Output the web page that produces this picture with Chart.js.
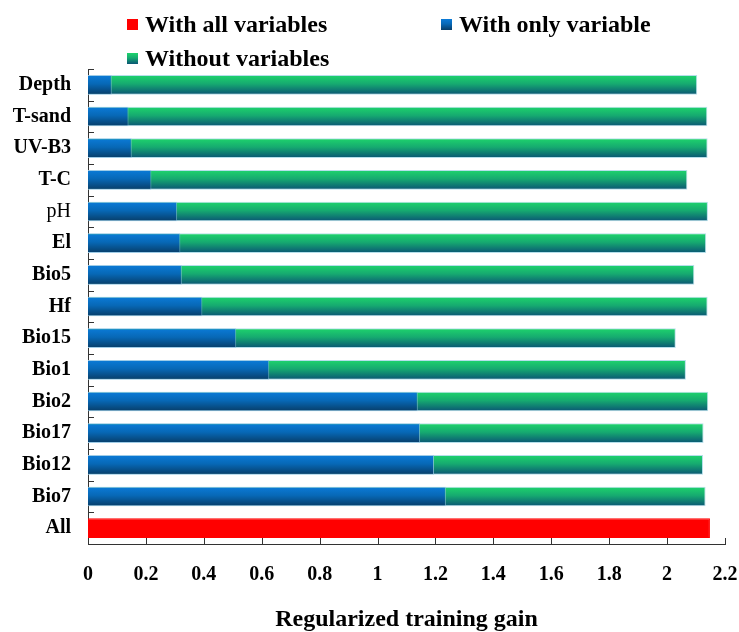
<!DOCTYPE html>
<html>
<head>
<meta charset="utf-8">
<title>Jackknife of regularized training gain</title>
<script src="https://cdn.jsdelivr.net/npm/chart.js@4.4.1/dist/chart.umd.min.js"></script>
<style>
  html, body { margin: 0; padding: 0; background: #fff; }
  #wrap { position: relative; width: 739px; height: 632px; overflow: hidden; }
  #legend { position: absolute; left: 0; top: 0; width: 739px; height: 70px;
            font: bold 24px "Liberation Serif", "Times New Roman", serif; color: #000; }
  .lg-item { position: absolute; display: flex; align-items: center; white-space: nowrap; line-height: 24px; }
  .lg-box { width: 11px; height: 11px; margin-right: 7px; }
</style>
</head>
<body>
<div id="wrap">
  <canvas id="chart" width="739" height="632"></canvas>
  <div id="legend"></div>
</div>
<script>
// Jackknife test of variable importance (MaxEnt style), horizontal overlapping bars.

var CATEGORIES = ["Depth", "T-sand", "UV-B3", "T-C", "pH", "El", "Bio5", "Hf",
                  "Bio15", "Bio1", "Bio2", "Bio17", "Bio12", "Bio7", "All"];

// gain with all variables (only the "All" row)
var WITH_ALL = [null, null, null, null, null, null, null, null,
                null, null, null, null, null, null, 2.148];

// gain with only this variable
var WITH_ONLY = [0.082, 0.140, 0.151, 0.219, 0.308, 0.319, 0.324, 0.395,
                 0.512, 0.626, 1.139, 1.147, 1.195, 1.236, null];

// gain without this variable
var WITHOUT = [2.104, 2.139, 2.140, 2.070, 2.141, 2.135, 2.094, 2.140,
               2.030, 2.065, 2.142, 2.126, 2.124, 2.133, null];

var X_TICK_LABELS = ["0", "0.2", "0.4", "0.6", "0.8", "1", "1.2", "1.4",
                     "1.6", "1.8", "2", "2.2"];

var NORMAL_WEIGHT_LABELS = ["pH"];

var SERIES_NAMES = ["With all variables", "With only variable", "Without variables"];

var FONT = '"Liberation Serif", "Times New Roman", serif';

// vertical gradient stops per dataset (null = flat fill)
var GRADIENTS = [
  null,
  [[0, "#0b7bd8"], [0.45, "#0768b6"], [1, "#073d68"]],
  [[0, "#1ed46c"], [0.45, "#16aa70"], [1, "#0a5574"]]
];

var FLAT = ["#ff0000", "#0768b6", "#16aa70"];

var BAR_PCT = 0.62;

function cssGradient(stops, flat) {
  if (!stops) return flat;
  return "linear-gradient(" + stops.map(function(s) {
    return s[1] + " " + Math.round(s[0] * 100) + "%";
  }).join(", ") + ")";
}

// legend built as html so it can sit in the two-row layout of the figure
var LEGEND_POS = [
  { left: 127, top: 12 },
  { left: 441, top: 12 },
  { left: 127, top: 46 }
];

(function buildLegend() {
  var box = document.getElementById("legend");
  SERIES_NAMES.forEach(function(name, i) {
    var item = document.createElement("div");
    item.className = "lg-item";
    item.style.left = LEGEND_POS[i].left + "px";
    item.style.top  = LEGEND_POS[i].top + "px";
    item.innerHTML =
      '<span class="lg-box" style="background:' + cssGradient(GRADIENTS[i], FLAT[i]) + '"></span>' +
      '<span>' + name + '</span>';
    box.appendChild(item);
  });
})();

// scriptable fill: vertical gradient across each bar's thickness
function barFill(i) {
  return function(c) {
    var stops = GRADIENTS[i];
    var ch = c.chart, ys = ch.scales && ch.scales.y;
    if (!stops || !ys || c.type !== "data" || !ys.ticks || !ys.ticks.length) return FLAT[i];
    var center = ys.getPixelForTick(c.dataIndex);
    var h = (ys.bottom - ys.top) / CATEGORIES.length * BAR_PCT;
    var g = ch.ctx.createLinearGradient(0, center - h / 2, 0, center + h / 2);
    stops.forEach(function(s) { g.addColorStop(s[0], s[1]); });
    return g;
  };
}

// short tick marks drawn on the inside of both axes
var innerTicks = {
  id: "innerTicks",
  afterDraw: function(chart) {
    var ctx = chart.ctx, xs = chart.scales.x, a = chart.chartArea;
    ctx.save();
    ctx.strokeStyle = "#333";
    ctx.lineWidth = 1;
    ctx.beginPath();
    xs.ticks.forEach(function(t, i) {
      var px = Math.round(xs.getPixelForTick(i)) + 0.5;
      ctx.moveTo(px, a.bottom);
      ctx.lineTo(px, a.bottom - 6);
    });
    var step = (a.bottom - a.top) / CATEGORIES.length;
    for (var i = 0; i <= CATEGORIES.length; i++) {
      var py = Math.round(a.top + i * step) + 0.5;
      ctx.moveTo(a.left, py);
      ctx.lineTo(a.left + 6, py);
    }
    ctx.stroke();
    ctx.restore();
  }
};

function dataset(label, data, i, border) {
  return {
    label: label,
    data: data,
    backgroundColor: barFill(i),
    borderColor: border,
    borderWidth: 1,
    borderSkipped: "start",
    grouped: false,
    categoryPercentage: 1,
    barPercentage: BAR_PCT
  };
}

Chart.defaults.color = "#000";
Chart.defaults.font.family = FONT;

new Chart(document.getElementById("chart"), {
  type: "bar",
  data: {
    labels: CATEGORIES,
    datasets: [
      dataset(SERIES_NAMES[0], WITH_ALL, 0, "#ff0000"),
      dataset(SERIES_NAMES[1], WITH_ONLY, 1, "rgba(150,195,230,0.7)"),
      dataset(SERIES_NAMES[2], WITHOUT, 2, "rgba(150,210,225,0.7)")
    ]
  },
  options: {
    indexAxis: "y",
    responsive: false,
    devicePixelRatio: 1,
    animation: false,
    layout: { padding: { top: 69, left: 0, right: 0, bottom: 0 } },
    plugins: {
      legend: { display: false },
      tooltip: { enabled: false }
    },
    scales: {
      x: {
        min: 0,
        max: 2.2,
        grid: { display: false, drawTicks: false },
        border: { display: true, color: "#333", width: 1 },
        ticks: {
          stepSize: 0.2,
          padding: 19,
          font: { size: 20, weight: "bold" },
          callback: function(v, i) { return X_TICK_LABELS[i]; }
        },
        title: {
          display: true,
          text: "Regularized training gain",
          font: { size: 24, weight: "bold", lineHeight: 1 },
          padding: { top: 0, bottom: 0 }
        },
        afterFit: function(s) { s.height = 88; s.paddingRight = 14; }
      },
      y: {
        grid: { display: false, drawTicks: false },
        border: { display: true, color: "#333", width: 1 },
        ticks: {
          padding: 17,
          font: function(c) {
            var lbl = CATEGORIES[c.index];
            return { size: 20, weight: NORMAL_WEIGHT_LABELS.indexOf(lbl) >= 0 ? "normal" : "bold" };
          }
        },
        afterFit: function(s) { s.width = 88; }
      }
    }
  }
  ,
  plugins: [innerTicks]
});
</script>
</body>
</html>
